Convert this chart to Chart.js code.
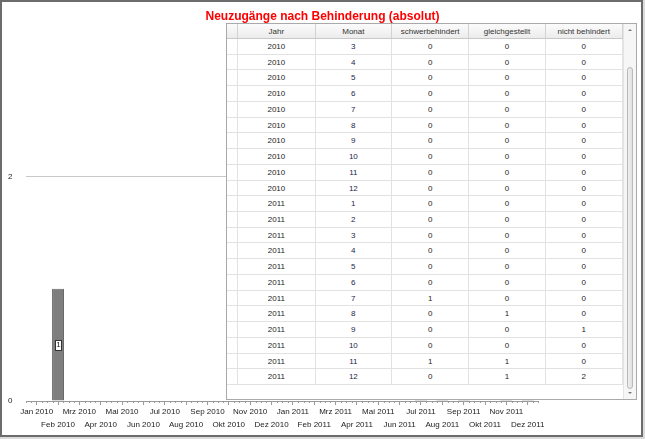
<!DOCTYPE html>
<html>
<head>
<meta charset="utf-8">
<script src="https://cdn.jsdelivr.net/npm/chart.js@4/dist/chart.umd.min.js"></script>
<style>
  html, body { margin: 0; padding: 0; background: #dcdcdc; }
  #frame { position: absolute; left: 0; top: 0; width: 639px; height: 433px; border: 2px solid #6c6c6c; background: #fff; }
  #chart { position: absolute; left: 0; top: 0; width: 645px; height: 439px; }
  #grid { position: absolute; left: 226px; top: 23px; width: 409px; height: 375px; border: 1px solid #a9a9a9; background: #fff; overflow: hidden;
          font-family: "Liberation Sans", Arial, sans-serif; font-size: 8px; color: #262626; }
  .cell { position: absolute; box-sizing: border-box; border-right: 1px solid #e2e2e2; border-bottom: 1px solid #e2e2e2; text-align: center; white-space: nowrap; }
  .head { background: linear-gradient(#fbfbfb, #ececec); border-right: 1px solid #d2d2d2; border-bottom: 1px solid #c8c8c8; color: #333; }
  #scroll { position: absolute; box-sizing: border-box; background: #f6f6f6; border-left: 1px solid #e4e4e4; }
  #thumb { position: absolute; box-sizing: border-box; border: 1px solid #b9b9b9; border-radius: 3px; background: linear-gradient(90deg, #f0f0f0, #e0e0e0); }
  .arrow { position: absolute; width: 0; height: 0; border-left: 2px solid transparent; border-right: 2px solid transparent; }
</style>
</head>
<body>
<div id="frame"></div>
<canvas id="chart" width="645" height="439"></canvas>
<div id="grid"></div>
<script>
// ---- chart data ----
const titleText = 'Neuzugänge nach Behinderung (absolut)';
const months = ['Jan 2010','Feb 2010','Mrz 2010','Apr 2010','Mai 2010','Jun 2010','Jul 2010','Aug 2010','Sep 2010','Okt 2010','Nov 2010','Dez 2010',
                'Jan 2011','Feb 2011','Mrz 2011','Apr 2011','Mai 2011','Jun 2011','Jul 2011','Aug 2011','Sep 2011','Okt 2011','Nov 2011','Dez 2011'];
const neuzugaenge = [0,1,0,0,0,0,0,0,0,0,0,0, 0,0,0,0,0,0,1,1,1,0,2,3];
const yTicks = [0, 2];

// ---- table data ----
const tableHeaders = ['Jahr','Monat','schwerbehindert','gleichgestellt','nicht behindert'];
const tableJahr   = [2010,2010,2010,2010,2010,2010,2010,2010,2010,2010, 2011,2011,2011,2011,2011,2011,2011,2011,2011,2011,2011,2011];
const tableMonat  = [3,4,5,6,7,8,9,10,11,12, 1,2,3,4,5,6,7,8,9,10,11,12];
const schwerbehindert = [0,0,0,0,0,0,0,0,0,0, 0,0,0,0,0,0,1,0,0,0,1,0];
const gleichgestellt  = [0,0,0,0,0,0,0,0,0,0, 0,0,0,0,0,0,0,1,0,0,1,1];
const nichtBehindert  = [0,0,0,0,0,0,0,0,0,0, 0,0,0,0,0,0,0,0,1,0,0,2];

// ---- build grid overlay ----
(function () {
  const grid = document.getElementById('grid');
  const ox = 227, oy = 24;               // inner origin of grid box (page coords)
  const colEdges = [226, 238, 315.7, 392, 469.3, 545.7, 622.7];
  const headTop = 24, headBottom = 39, rowH = 15.73;
  function add(cls, x0, y0, x1, y1, text) {
    const d = document.createElement('div');
    d.className = cls;
    d.style.left = (x0 - ox) + 'px';
    d.style.top = (y0 - oy) + 'px';
    d.style.width = (x1 - x0) + 'px';
    d.style.height = (y1 - y0) + 'px';
    d.style.lineHeight = (y1 - y0) + 'px';
    if (text !== undefined) d.textContent = text;
    grid.appendChild(d);
    return d;
  }
  // header
  add('cell head', colEdges[0], headTop, colEdges[1], headBottom);
  tableHeaders.forEach((h, c) => add('cell head', colEdges[c + 1], headTop, colEdges[c + 2], headBottom, h));
  // rows
  const cols = [tableJahr, tableMonat, schwerbehindert, gleichgestellt, nichtBehindert];
  for (let r = 0; r < tableJahr.length; r++) {
    const y0 = headBottom + r * rowH, y1 = y0 + rowH;
    add('cell', colEdges[0], y0, colEdges[1], y1);
    cols.forEach((arr, c) => {
      const d = add('cell', colEdges[c + 1], y0, colEdges[c + 2], y1, String(arr[r]));
      if (c === 1) d.style.color = '#25254a';
    });
  }
  // scrollbar
  const sb = document.createElement('div');
  sb.id = 'scroll';
  sb.style.left = (622.7 - ox) + 'px'; sb.style.top = '0px';
  sb.style.width = (636 - 622.7) + 'px'; sb.style.height = '375px';
  grid.appendChild(sb);
  const up = document.createElement('div'); up.className = 'arrow';
  up.style.left = '4.5px'; up.style.top = '5px'; up.style.borderBottom = '2px solid #777';
  sb.appendChild(up);
  const dn = document.createElement('div'); dn.className = 'arrow';
  dn.style.left = '4.5px'; dn.style.top = '368px'; dn.style.borderTop = '2px solid #777';
  sb.appendChild(dn);
  const th = document.createElement('div'); th.id = 'thumb';
  th.style.left = '3.5px'; th.style.top = (67 - oy) + 'px'; th.style.width = '6px'; th.style.height = (389 - 67) + 'px';
  sb.appendChild(th);
})();

// ---- chart ----
const xLabels = months.map((m, i) => (i % 2 === 0 ? [m, ''] : ['', m]));
const FONT = 'Liberation Sans, Arial, sans-serif';

const minorTicks = {
  id: 'minorTicks',
  afterDraw(chart) {
    const x = chart.scales.x, ctx = chart.ctx;
    const w = (x.right - x.left) / months.length / 4;
    ctx.save();
    ctx.strokeStyle = '#9a9a9a';
    ctx.lineWidth = 1;
    ctx.beginPath();
    for (let j = 0; j <= months.length * 4; j++) {
      if (j % 4 === 2) continue;
      const px = Math.round(x.left + j * w) + 0.5;
      ctx.moveTo(px, x.top);
      ctx.lineTo(px, x.top + 2);
    }
    ctx.stroke();
    ctx.restore();
  }
};

const barLabels = {
  id: 'barLabels',
  afterDatasetsDraw(chart) {
    const ctx = chart.ctx;
    const meta = chart.getDatasetMeta(0);
    ctx.save();
    ctx.font = '8px ' + FONT;
    ctx.textAlign = 'center';
    ctx.textBaseline = 'middle';
    meta.data.forEach((bar, i) => {
      const v = neuzugaenge[i];
      if (!v) return;
      const cx = bar.x, cy = (bar.y + bar.base) / 2;
      ctx.fillStyle = '#fff';
      ctx.fillRect(Math.round(cx - 3) + 0.5, Math.round(cy - 5) + 0.5, 6, 10);
      ctx.strokeStyle = '#333';
      ctx.lineWidth = 1;
      ctx.strokeRect(Math.round(cx - 3) + 0.5, Math.round(cy - 5) + 0.5, 6, 10);
      ctx.fillStyle = '#222';
      ctx.fillText(String(v), cx + 0.5, cy + 0.5);
    });
    ctx.restore();
  }
};

new Chart(document.getElementById('chart'), {
  type: 'bar',
  data: {
    labels: xLabels,
    datasets: [{
      label: 'Neuzugänge',
      data: neuzugaenge,
      backgroundColor: '#7e7e7e',
      borderColor: '#6a6a6a',
      borderWidth: 1,
      categoryPercentage: 1,
      barPercentage: 0.56
    }]
  },
  options: {
    responsive: false,
    animation: false,
    events: [],
    layout: { padding: { left: 8, right: 8, top: 0, bottom: 7.2 } },
    plugins: {
      legend: { display: false },
      tooltip: { enabled: false },
      title: {
        display: true,
        text: titleText,
        color: '#ff0000',
        font: { family: FONT, size: 12, weight: 'bold', lineHeight: 1.2 },
        padding: { top: 9, bottom: 7.35 }
      }
    },
    scales: {
      x: {
        grid: { offset: false, drawOnChartArea: false, drawTicks: true, tickLength: 4, color: '#9a9a9a' },
        border: { color: '#9a9a9a' },
        ticks: { autoSkip: false, maxRotation: 0, minRotation: 0, padding: 1, color: '#222',
                 font: { family: FONT, size: 8, lineHeight: 1.55 } }
      },
      y: {
        min: 0, max: 3.3,
        afterBuildTicks: s => { s.ticks = yTicks.map(v => ({ value: v })); },
        afterFit: s => { s.width = 18; },
        grid: { color: '#c8c8c8', drawTicks: false },
        border: { display: false },
        ticks: { padding: 13.5, color: '#222', font: { family: FONT, size: 8 } }
      },
      y2: {
        position: 'right',
        display: true,
        afterFit: s => { s.width = 98.6; },
        grid: { display: false, drawTicks: false },
        border: { display: false },
        ticks: { display: false }
      }
    }
  },
  plugins: [minorTicks, barLabels]
});
</script>
</body>
</html>
